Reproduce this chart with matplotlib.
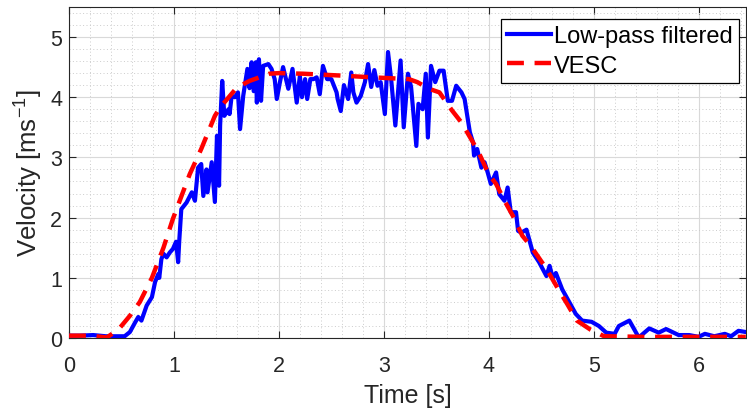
import numpy as np
import matplotlib.pyplot as plt
from matplotlib.ticker import MultipleLocator

# ---- data ----
t_filt = [0.00, 0.10, 0.23, 0.35, 0.45, 0.53, 0.58, 0.63, 0.66, 0.69, 0.74, 0.79, 0.82,
          0.85, 0.86, 0.88, 0.90, 0.93, 0.96, 0.99, 1.02, 1.04, 1.05, 1.07, 1.12, 1.17,
          1.20, 1.23, 1.26, 1.28, 1.31, 1.32, 1.36, 1.39, 1.41, 1.43, 1.44, 1.46, 1.48,
          1.52, 1.53, 1.55, 1.58, 1.61, 1.63, 1.66, 1.70, 1.72, 1.74, 1.76, 1.78, 1.79,
          1.81, 1.83, 1.85, 1.90, 1.93, 1.96, 1.98, 2.01, 2.04, 2.09, 2.13, 2.17, 2.20,
          2.22, 2.25, 2.27, 2.30, 2.33, 2.36, 2.39, 2.42, 2.46, 2.50, 2.55, 2.56, 2.59,
          2.62, 2.66, 2.69, 2.71, 2.74, 2.78, 2.82, 2.85, 2.88, 2.91, 2.94, 2.97, 3.01,
          3.04, 3.07, 3.11, 3.16, 3.19, 3.23, 3.26, 3.31, 3.33, 3.37, 3.40, 3.42, 3.45,
          3.49, 3.53, 3.57, 3.61, 3.65, 3.69, 3.74, 3.77, 3.79, 3.82, 3.85, 3.86, 3.89,
          3.93, 3.96, 3.99, 4.02, 4.07, 4.10, 4.15, 4.18, 4.21, 4.26, 4.28, 4.31, 4.36,
          4.42, 4.48, 4.55, 4.58, 4.61, 4.64, 4.70, 4.77, 4.83, 4.89, 4.98, 5.05, 5.12,
          5.20, 5.24, 5.34, 5.43, 5.53, 5.62, 5.69, 5.81, 5.91, 6.00, 6.06, 6.15, 6.25,
          6.31, 6.38, 6.45]
v_filt = [0.04, 0.04, 0.05, 0.03, 0.03, 0.03, 0.10, 0.26, 0.35, 0.29, 0.54, 0.68, 0.93,
          1.06, 1.00, 1.31, 1.40, 1.34, 1.42, 1.48, 1.60, 1.26, 1.60, 2.14, 2.25, 2.42,
          2.28, 2.83, 2.89, 2.36, 2.80, 2.42, 2.92, 2.26, 3.36, 2.53, 3.53, 4.27, 3.69,
          3.80, 3.72, 4.02, 4.00, 4.08, 3.47, 4.02, 4.47, 4.15, 4.58, 4.10, 4.58, 3.91,
          4.63, 3.94, 4.52, 4.55, 4.47, 4.30, 3.97, 4.25, 4.50, 4.14, 4.47, 3.91, 4.35,
          4.00, 4.30, 3.97, 4.30, 4.30, 4.33, 4.05, 4.52, 4.30, 4.30, 4.08, 3.97, 3.77,
          4.20, 3.97, 4.41, 4.08, 3.91, 4.02, 4.25, 4.55, 4.17, 4.45, 4.19, 4.25, 3.72,
          4.75, 4.30, 3.53, 4.61, 3.50, 4.39, 4.17, 3.19, 3.89, 3.80, 4.39, 3.33, 4.52,
          4.25, 4.44, 4.44, 3.94, 3.94, 4.19, 4.08, 3.97, 3.75, 3.42, 3.25, 3.03, 3.14,
          2.83, 2.92, 2.75, 2.56, 2.75, 2.39, 2.28, 2.50, 2.09, 2.09, 1.78, 1.75, 1.80,
          1.42, 1.26, 1.03, 1.20, 1.00, 1.08, 0.81, 0.59, 0.40, 0.29, 0.27, 0.20, 0.09,
          0.07, 0.20, 0.29, 0.01, 0.16, 0.09, 0.15, 0.05, 0.05, 0.02, 0.07, 0.03, 0.07,
          0.03, 0.12, 0.10]

t_vesc = [0.00, 0.20, 0.36, 0.47, 0.58, 0.675, 0.79, 0.90, 0.99, 1.15, 1.26, 1.39, 1.44,
          1.60, 1.72, 1.91, 2.00, 2.23, 2.58, 2.89, 3.24, 3.32, 3.43, 3.53, 3.65, 3.74,
          3.85, 3.91, 4.00, 4.07, 4.16, 4.23, 4.32, 4.40, 4.55, 4.67, 4.75, 4.84, 4.97,
          5.10, 5.50, 6.00, 6.45]
v_vesc = [0.04, 0.04, 0.01, 0.14, 0.37, 0.60, 1.00, 1.50, 1.98, 2.72, 3.14, 3.69, 3.83,
          4.16, 4.27, 4.39, 4.40, 4.39, 4.36, 4.33, 4.30, 4.25, 4.14, 4.08, 3.78, 3.58,
          3.25, 3.06, 2.72, 2.56, 2.25, 2.03, 1.70, 1.53, 1.15, 0.79, 0.56, 0.29, 0.14,
          0.03, 0.02, 0.02, 0.02]

plt.rcParams['font.family'] = ['Liberation Sans', 'DejaVu Sans']

fig = plt.figure(figsize=(7.47, 4.14), dpi=100)
ax = fig.add_axes([0.0924, 0.181, 0.906, 0.800])

ax.plot(t_filt, v_filt, color=(0, 0, 1), lw=3.0, label='Low-pass filtered', zorder=3)
ax.plot(t_vesc, v_vesc, color=(1, 0, 0), lw=3.2, linestyle=(0, (3.8, 2.4)),
        label='VESC', zorder=4)

ax.set_xlim(0, 6.45)
ax.set_ylim(0, 5.5)
ax.xaxis.set_major_locator(MultipleLocator(1))
ax.yaxis.set_major_locator(MultipleLocator(1))
ax.xaxis.set_minor_locator(MultipleLocator(0.2))
ax.yaxis.set_minor_locator(MultipleLocator(0.2))

dark = (0.15, 0.15, 0.15)
ax.grid(which='major', color=(0.85, 0.85, 0.85), lw=0.8, ls='-')
ax.grid(which='minor', color=(0.8, 0.8, 0.8), lw=0.7, ls=(0, (1, 2.5)))
ax.set_axisbelow(True)
ax.tick_params(which='both', direction='in', top=True, right=True, colors=dark,
               labelsize=15.5)
ax.tick_params(which='major', length=5, width=0.8)
ax.tick_params(axis='x', which='major', pad=12)
ax.tick_params(axis='y', which='major', pad=5)
ax.tick_params(which='minor', length=0)
for s in ax.spines.values():
    s.set_color(dark)
    s.set_linewidth(0.8)

ax.set_xlabel('Time [s]', fontsize=18, color=dark, labelpad=5)
ax.set_ylabel('Velocity [ms$^{\\mathregular{-1}}$]', fontsize=18.5, color=dark, labelpad=4)

leg = ax.legend(loc='upper right', bbox_to_anchor=(0.997, 0.978), fontsize=17,
                fancybox=False, framealpha=1, edgecolor='black', handlelength=1.85,
                borderpad=0.28, labelspacing=0.3, handletextpad=0.12, borderaxespad=0.2)
leg.get_frame().set_linewidth(0.9)

fig.savefig('out.png', dpi=100)
